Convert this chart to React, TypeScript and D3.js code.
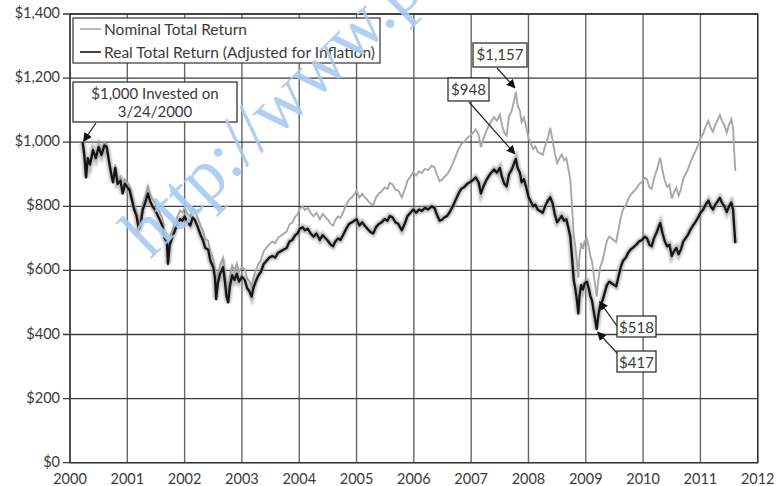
import React from 'react';
import * as d3 from 'd3';

// decimal-year dates shared by both series
const dates = [
  2000.22, 2000.25, 2000.28, 2000.31, 2000.35, 2000.4, 2000.45, 2000.5, 2000.55, 2000.6, 2000.64, 2000.68, 2000.72, 2000.75, 2000.79, 2000.83, 2000.88, 2000.92, 2000.96,
  2001.0, 2001.04, 2001.08, 2001.12, 2001.16, 2001.2, 2001.23, 2001.27, 2001.31, 2001.36, 2001.4, 2001.44, 2001.48, 2001.52, 2001.56, 2001.61, 2001.65, 2001.69, 2001.71, 2001.74, 2001.78, 2001.83, 2001.88, 2001.92, 2001.96,
  2002.0, 2002.05, 2002.1, 2002.14, 2002.18, 2002.23, 2002.28, 2002.32, 2002.36, 2002.41, 2002.45, 2002.5, 2002.53, 2002.55, 2002.58, 2002.62, 2002.67, 2002.7, 2002.73, 2002.76, 2002.79, 2002.83, 2002.87, 2002.91, 2002.95,
  2003.0, 2003.05, 2003.09, 2003.13, 2003.17, 2003.2, 2003.25, 2003.29, 2003.33, 2003.38, 2003.43, 2003.48, 2003.53, 2003.58, 2003.63, 2003.68, 2003.73, 2003.78, 2003.83, 2003.88, 2003.93, 2003.97,
  2004.01, 2004.06, 2004.1, 2004.15, 2004.2, 2004.25, 2004.3, 2004.36, 2004.41, 2004.46, 2004.51, 2004.55, 2004.59, 2004.63, 2004.68, 2004.72, 2004.77, 2004.82, 2004.87, 2004.92,
  2005.0, 2005.05, 2005.1, 2005.14, 2005.19, 2005.24, 2005.29, 2005.34, 2005.39, 2005.44, 2005.49, 2005.54, 2005.58, 2005.63, 2005.68, 2005.73, 2005.79, 2005.84, 2005.89, 2005.94, 2005.99,
  2006.04, 2006.09, 2006.14, 2006.19, 2006.25, 2006.31, 2006.36, 2006.4, 2006.45, 2006.49, 2006.53, 2006.58, 2006.63, 2006.68, 2006.73, 2006.78, 2006.83, 2006.88, 2006.93, 2006.98,
  2007.03, 2007.08, 2007.13, 2007.17, 2007.21, 2007.26, 2007.31, 2007.35, 2007.4, 2007.45, 2007.5, 2007.54, 2007.58, 2007.62, 2007.66, 2007.71, 2007.75, 2007.78, 2007.81, 2007.85, 2007.88, 2007.92, 2007.96,
  2008.0, 2008.04, 2008.08, 2008.12, 2008.16, 2008.2, 2008.25, 2008.29, 2008.33, 2008.38, 2008.42, 2008.46, 2008.5, 2008.54, 2008.58, 2008.62, 2008.66, 2008.7, 2008.73, 2008.76, 2008.79, 2008.82, 2008.85, 2008.87, 2008.89, 2008.92, 2008.95, 2008.98,
  2009.02, 2009.05, 2009.08, 2009.11, 2009.14, 2009.17, 2009.19, 2009.22, 2009.25, 2009.29, 2009.33, 2009.37, 2009.41, 2009.45, 2009.49, 2009.53, 2009.57, 2009.61, 2009.65, 2009.7, 2009.74, 2009.78, 2009.83, 2009.88, 2009.93, 2009.98,
  2010.03, 2010.07, 2010.11, 2010.15, 2010.19, 2010.24, 2010.28, 2010.3, 2010.34, 2010.38, 2010.42, 2010.46, 2010.5, 2010.54, 2010.58, 2010.62, 2010.66, 2010.7, 2010.74, 2010.78, 2010.82, 2010.87, 2010.91, 2010.96,
  2011.0, 2011.05, 2011.09, 2011.14, 2011.18, 2011.22, 2011.26, 2011.3, 2011.34, 2011.38, 2011.42, 2011.46, 2011.5, 2011.54, 2011.57, 2011.59, 2011.61,
];

const realValues = [
  1000, 960, 890, 950, 930, 975, 950, 985, 960, 990, 985, 940, 900, 875, 920, 870, 880, 840, 870,
  860, 850, 820, 790, 770, 730, 740, 790, 810, 840, 815, 800, 790, 775, 760, 740, 700, 690, 620, 680, 700, 725, 745, 760, 755,
  768, 750, 740, 765, 757, 735, 710, 695, 670, 665, 630, 610, 575, 510, 560, 590, 610, 570, 520, 500, 550, 585, 570, 590, 565,
  580, 570, 545, 535, 518, 545, 570, 585, 595, 620, 630, 640, 645, 640, 655, 660, 665, 670, 690, 695, 710, 715,
  730, 735, 725, 730, 715, 705, 715, 695, 710, 700, 690, 680, 675, 690, 700, 695, 712, 730, 745, 750,
  760, 740, 750, 740, 730, 720, 715, 735, 745, 750, 760, 755, 770, 765, 750, 745, 725, 745, 770, 780, 790,
  780, 790, 785, 795, 790, 800, 795, 775, 755, 758, 765, 770, 783, 800, 820, 840, 855, 860, 870, 875,
  882, 890, 875, 840, 860, 880, 895, 905, 915, 905, 920, 890, 870, 862, 900, 915, 935, 948, 920, 905, 875, 885, 860,
  830, 815, 800, 805, 790, 785, 780, 800, 815, 828, 810, 775, 750, 760, 770, 755, 760, 730, 705, 640, 570, 540, 500, 465, 520, 555, 540, 560,
  565, 545, 520, 505, 470, 440, 417, 460, 490, 505, 530, 555, 565, 560, 555, 550, 580, 610, 630, 640, 655, 665, 672, 680, 690, 695,
  705, 700, 680, 675, 700, 720, 740, 748, 715, 690, 675, 680, 645, 660, 670, 650, 665, 690, 700, 710, 725, 740, 750, 765,
  779, 790, 805, 818, 800, 790, 805, 815, 826, 810, 800, 782, 800, 812, 790, 735, 685,
];

const nominalValues = [
  1000, 961, 892, 952, 933, 979, 955, 991, 967, 998, 994, 949, 909, 885, 931, 881, 892, 852, 883,
  874, 864, 835, 805, 786, 746, 757, 809, 830, 862, 837, 822, 813, 798, 783, 763, 722, 712, 640, 702, 723, 749, 770, 786, 781,
  795, 777, 767, 794, 786, 764, 739, 724, 698, 693, 658, 637, 601, 533, 586, 618, 639, 598, 546, 525, 578, 615, 600, 621, 595,
  612, 602, 576, 566, 549, 578, 605, 621, 632, 660, 671, 682, 690, 685, 702, 708, 715, 721, 744, 750, 768, 775,
  793, 799, 789, 795, 779, 769, 780, 759, 776, 766, 756, 745, 740, 757, 769, 764, 783, 804, 821, 828,
  848, 827, 839, 829, 819, 809, 804, 828, 840, 847, 859, 854, 873, 868, 852, 849, 828, 851, 880, 893, 906,
  896, 909, 904, 917, 913, 926, 922, 900, 878, 883, 892, 899, 914, 934, 956, 978, 995, 1001, 1013, 1019,
  1029, 1040, 1024, 984, 1008, 1033, 1052, 1065, 1078, 1067, 1086, 1052, 1029, 1021, 1080, 1100, 1130, 1157, 1115, 1098, 1063, 1077, 1048,
  1013, 996, 979, 987, 970, 966, 961, 988, 1008, 1045, 1006, 965, 935, 949, 962, 944, 950, 913, 882, 800, 711, 672, 621, 577, 644, 686, 667, 692,
  699, 675, 645, 627, 584, 548, 518, 572, 610, 629, 661, 693, 706, 700, 694, 688, 726, 764, 790, 803, 822, 835, 845, 855, 869, 876,
  889, 884, 859, 854, 886, 913, 940, 952, 910, 879, 861, 868, 824, 844, 858, 833, 853, 886, 900, 914, 935, 956, 970, 991,
  1011, 1027, 1048, 1067, 1045, 1033, 1054, 1069, 1085, 1065, 1053, 1030, 1055, 1072, 1043, 972, 910,
];

const yearTicks = [2000, 2001, 2002, 2003, 2004, 2005, 2006, 2007, 2008, 2009, 2010, 2011, 2012];
const valueTicks = [0, 200, 400, 600, 800, 1000, 1200, 1400];
const seriesNames = ['Nominal Total Return', 'Real Total Return (Adjusted for Inflation)'];

const W = 778;
const H = 486;
const margin = { top: 14, right: 20.3, bottom: 23.3, left: 70 };
const FONT = 'Lato, "Open Sans", sans-serif';
const TEXT = '#3a3a3a';

const x = d3.scaleLinear().domain([2000, 2012]).range([margin.left, W - margin.right]);
const y = d3.scaleLinear().domain([0, 1400]).range([H - margin.bottom, margin.top]);

const line = d3
  .line<number>()
  .x((_, i) => x(dates[i]))
  .y(d => y(d));

const money = (v: number) => '$' + d3.format(',')(v);

const Callout = ({ bx, by, bw, bh, lines, from, to }: any) => (
  <g>
    <line x1={from[0]} y1={from[1]} x2={to[0]} y2={to[1]} stroke="#222" strokeWidth={1.2} markerEnd="url(#arrow)" />
    <rect x={bx} y={by} width={bw} height={bh} fill="#fff" stroke="#222" strokeWidth={1.2} />
    {lines.map((t: string, i: number) => (
      <text key={i} x={bx + bw / 2} y={by + 17 + i * 18} textAnchor="middle" fontSize={15} fill={TEXT} fontFamily={FONT}>
        {t}
      </text>
    ))}
  </g>
);

export default function App() {
  const [x0, x1] = x.range();
  const [y0, y1] = y.range();
  const iPeakReal = realValues.indexOf(948);
  const iLowReal = realValues.indexOf(417);
  const iPeakNom = nominalValues.indexOf(1157);
  const iLowNom = nominalValues.indexOf(518);
  return (
    <div style={{ position: 'absolute', left: 0, top: 0 }}>
      <svg width={W} height={H} style={{ display: 'block', background: '#fff' }}>
        <defs>
          <marker id="arrow" viewBox="0 0 10 10" refX={9} refY={5} markerWidth={9} markerHeight={9} orient="auto" markerUnits="userSpaceOnUse">
            <path d="M0,0 L10,5 L0,10 z" fill="#111" />
          </marker>
          <filter id="soft" x="-5%" y="-5%" width="110%" height="110%">
            <feGaussianBlur stdDeviation="1.3" />
          </filter>
        </defs>

        {/* grid */}
        {yearTicks.map(t => (
          <line key={'v' + t} x1={x(t)} x2={x(t)} y1={y1} y2={y0} stroke="#666" strokeWidth={1.4} />
        ))}
        {valueTicks.map(t => (
          <g key={'h' + t}>
            <line x1={x0 - 7} x2={x1} y1={y(t)} y2={y(t)} stroke="#3c3c3c" strokeWidth={1.3} />
            <text x={x0 - 10} y={y(t) - 1} dy="0.35em" textAnchor="end" fontSize={14.5} fill={TEXT} fontFamily={FONT}>
              {money(t)}
            </text>
          </g>
        ))}
        <rect x={x0} y={y1} width={x1 - x0} height={y0 - y1} fill="none" stroke="#333" strokeWidth={1.4} />
        {yearTicks.map(t => (
          <text key={'xl' + t} x={x(t)} y={y0 + 21} textAnchor="middle" fontSize={14.5} fill={TEXT} fontFamily={FONT}>
            {t}
          </text>
        ))}

        {/* series */}
        <path d={line(nominalValues) || ''} fill="none" stroke="#a8a8a8" strokeWidth={1.9} />
        <path d={line(realValues) || ''} fill="none" stroke="#999" strokeWidth={5.5} opacity={0.7} filter="url(#soft)" />
        <path d={line(realValues) || ''} fill="none" stroke="#151515" strokeWidth={2.3} strokeLinejoin="round" />

        {/* legend */}
        <rect x={73} y={18} width={307} height={45} fill="#fff" stroke="#333" strokeWidth={1.2} />
        <line x1={80} x2={101} y1={29} y2={29} stroke="#a8a8a8" strokeWidth={1.6} />
        <text x={104} y={34.5} fontSize={15.5} fill={TEXT} fontFamily={FONT}>{seriesNames[0]}</text>
        <line x1={80} x2={101} y1={52} y2={52} stroke="#151515" strokeWidth={1.6} />
        <text x={104} y={57.5} fontSize={15.5} fill={TEXT} fontFamily={FONT}>{seriesNames[1]}</text>

        {/* callouts */}
        <Callout bx={73} by={82} bw={164} bh={40} lines={['$1,000 Invested on', '3/24/2000']} from={[96, 123]} to={[x(dates[0]) + 1, y(realValues[0]) - 1]} />
        <Callout bx={473} by={43} bw={54} bh={24} lines={[money(1157)]} from={[497, 68]} to={[x(dates[iPeakNom]) - 1, y(nominalValues[iPeakNom]) - 4]} />
        <Callout bx={448} by={78} bw={41} bh={23} lines={[money(948)]} from={[469, 102]} to={[x(dates[iPeakReal]) - 1, y(realValues[iPeakReal]) - 5]} />
        <Callout bx={617} by={316} bw={39} bh={21} lines={[money(518)]} from={[617, 326]} to={[x(dates[iLowNom]) + 3, y(nominalValues[iLowNom]) + 5]} />
        <Callout bx={617} by={351} bw={39} bh={21} lines={[money(417)]} from={[617, 353]} to={[x(dates[iLowReal]) + 1, y(realValues[iLowReal]) + 3]} />

        {/* watermark, drawn over everything */}
        <text
          transform="translate(150,260) rotate(-44)"
          fontSize={73}
          fontFamily='"Liberation Serif", "DejaVu Serif", serif'
          fill="#a9c9f2"
          opacity={0.9}
        >
          http://www.p
        </text>
      </svg>
    </div>
  );
}
